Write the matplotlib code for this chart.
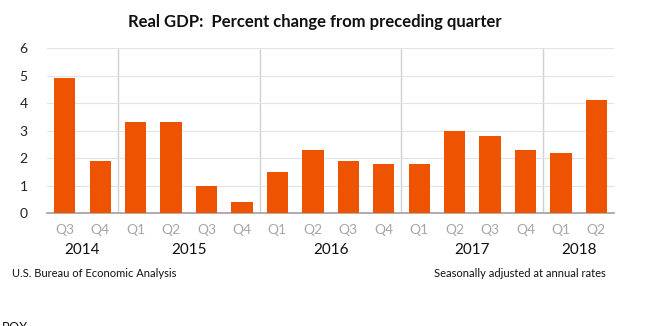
import matplotlib.pyplot as plt

quarters = ["Q3", "Q4", "Q1", "Q2", "Q3", "Q4", "Q1", "Q2", "Q3", "Q4",
            "Q1", "Q2", "Q3", "Q4", "Q1", "Q2"]
gdp = [4.9, 1.9, 3.3, 3.3, 1.0, 0.4, 1.5, 2.3, 1.9, 1.8, 1.8, 3.0, 2.8, 2.3, 2.2, 4.1]
years = ["2014", "2015", "2016", "2017", "2018"]
year_centers = [0.5, 3.5, 7.5, 11.5, 14.5]
year_breaks = [1.5, 5.5, 9.5, 13.5]

plt.rcParams['font.family'] = ['Lato', 'DejaVu Sans']

fig = plt.figure(figsize=(6.68, 3.26), dpi=100)
ax = fig.add_axes([0.0704, 0.3466, 0.849, 0.506])

x = list(range(len(gdp)))
ax.bar(x, gdp, width=0.6, color="#ee5302", zorder=3)
ax.set_xlim(-0.5, len(gdp) - 0.5)
ax.set_ylim(0, 6)
ax.set_yticks(range(7))
ax.yaxis.grid(True, color="#e3e3e3", linewidth=0.8, zorder=0)
for b in year_breaks:
    ax.axvline(b, color="#d0d0d0", linewidth=1, zorder=1)

for s in ["top", "right", "left"]:
    ax.spines[s].set_visible(False)
ax.spines["bottom"].set_color("#a0a0a0")
ax.spines["bottom"].set_linewidth(1.2)
ax.tick_params(axis="both", length=0)
ax.tick_params(axis="y", labelsize=10, pad=14, labelcolor="#222222")
ax.set_xticks(x)
ax.set_xticklabels(quarters, fontsize=10, color="#a6a6a6")
ax.tick_params(axis="x", pad=8)

for yr, c in zip(years, year_centers):
    ax.text(c, -1.35, yr, ha="center", va="center", fontsize=11, color="#111111",
            transform=ax.transData, clip_on=False)

fig.text(0.472, 0.933, "Real GDP:  Percent change from preceding quarter",
         ha="center", va="center", fontsize=12, fontweight="bold", color="#111111")
fig.text(0.018, 0.16, "U.S. Bureau of Economic Analysis", ha="left", va="center",
         fontsize=8, color="#111111")
fig.text(0.907, 0.16, "Seasonally adjusted at annual rates", ha="right", va="center",
         fontsize=8, color="#111111")
fig.text(0.003, -0.005, "BOX", ha="left", va="center", fontsize=9, color="#111111")

fig.savefig("out.png", dpi=100, facecolor="white")
